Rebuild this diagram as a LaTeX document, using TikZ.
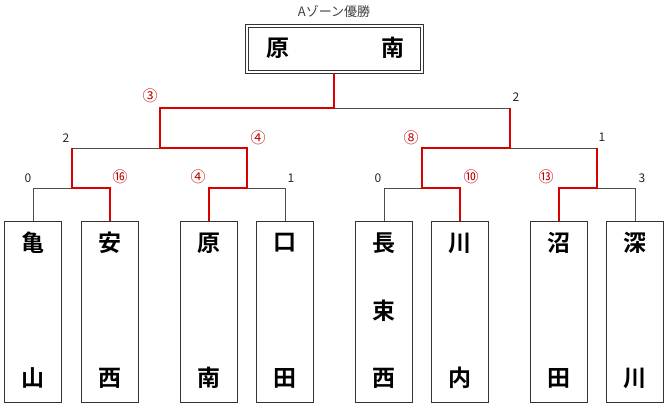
\documentclass[tikz,border=0pt]{standalone}
\usepackage{fontspec}
\setmainfont{Noto Sans CJK JP}
\newfontfamily\cjkb{Noto Sans CJK JP Bold}
\begin{document}
\begin{tikzpicture}[x=1pt,y=-1pt,
  team/.style={draw=black!80,line width=0.8pt,minimum width=57pt,minimum height=181pt,inner sep=0pt},
  nm/.style={font=\cjkb\fontsize{23}{23}\selectfont},
  ln/.style={draw=black!70,line width=0.8pt},
  win/.style={draw=red!85!black,line width=2.2pt},
  sc/.style={font=\fontsize{12}{12}\selectfont,text=black!85,inner sep=0pt},
  rc/.style={font=\fontsize{15}{15}\selectfont,text=red!75!black,inner sep=0pt}]
\useasboundingbox (0,0) rectangle (670,409);
% teams
\foreach \n/\x in {t1/33,t2/110,t3/209,t4/285,t5/384,t6/460,t7/559,t8/635}{
  \node[team,anchor=north] (\n) at (\x,221) {};
  \coordinate (\n u) at (\x,188);
}
\node[nm] (a1) at (33,243) {亀}; \node[nm] (a2) at (33,378) {山};
\node[nm] (b1) at (110,243) {安}; \node[nm] (b2) at (110,378) {西};
\node[nm] (c1) at (209,243) {原}; \node[nm] (c2) at (209,378) {南};
\node[nm] (d1) at (285,243) {口}; \node[nm] (d2) at (285,378) {田};
\node[nm] (e1) at (384,243) {長}; \node[nm] (e2) at (384,311) {束}; \node[nm] (e3) at (384,378) {西};
\node[nm] (f1) at (460,243) {川}; \node[nm] (f2) at (460,378) {内};
\node[nm] (g1) at (559,243) {沼}; \node[nm] (g2) at (559,378) {田};
\node[nm] (h1) at (635,243) {深}; \node[nm] (h2) at (635,378) {川};
% champion
\node[draw=black!80,line width=0.8pt,minimum width=178pt,minimum height=49pt,inner sep=0pt] (ch) at (334,48.5) {};
\node[draw=black!80,line width=0.8pt,minimum width=172pt,minimum height=43pt,inner sep=0pt] (chi) at (334,48.5) {};
\node[nm] (ch1) at (278,48) {原}; \node[nm] (ch2) at (393,48) {南};
\node[font=\fontsize{13}{13}\selectfont,text=black!75] (title) at (334,11) {Aゾーン優勝};
% coordinates
\coordinate (j1) at (72,188); \coordinate (j2) at (247,188);
\coordinate (j3) at (422,188); \coordinate (j4) at (597,188);
\coordinate (k1) at (72,148); \coordinate (k2) at (247,148);
\coordinate (k3) at (422,148); \coordinate (k4) at (597,148);
\coordinate (m1) at (160,148); \coordinate (m2) at (510,148);
\coordinate (n1) at (160,108); \coordinate (n2) at (510,108);
\coordinate (top) at (334,108);
% black lines
\draw[ln] (t1.north) -- (t1u) -- (j1);
\draw[ln] (j2) -- (t4u) -- (t4.north);
\draw[ln] (t5.north) -- (t5u) -- (j3);
\draw[ln] (j4) -- (t8u) -- (t8.north);
\draw[ln] (k1) -- (m1);
\draw[ln] (m2) -- (k4);
\draw[ln] (top) -- (n2);
% red lines
\draw[win] (t2.north) -- (t2u) -- (j1) -- (k1);
\draw[win] (t3.north) -- (t3u) -- (j2) -- (k2) -- (m1) -- (n1) -- (top) -- (ch.south);
\draw[win] (t6.north) -- (t6u) -- (j3) -- (k3) -- (m2) -- (n2);
\draw[win] (t7.north) -- (t7u) -- (j4) -- (k4);
% scores
\node[sc] at (28,178) {0}; \node[rc] at (120,177) {⑯};
\node[rc] at (198,177) {④}; \node[sc] at (291,178) {1};
\node[sc] at (378,178) {0}; \node[rc] at (471,177) {⑩};
\node[rc] at (546,177) {⑬}; \node[sc] at (642,178) {3};
\node[sc] at (66,138) {2}; \node[rc] at (258,138) {④};
\node[rc] at (411,138) {⑧}; \node[sc] at (602,137) {1};
\node[rc] at (150,96) {③}; \node[sc] at (516,97) {2};
\end{tikzpicture}
\end{document}
